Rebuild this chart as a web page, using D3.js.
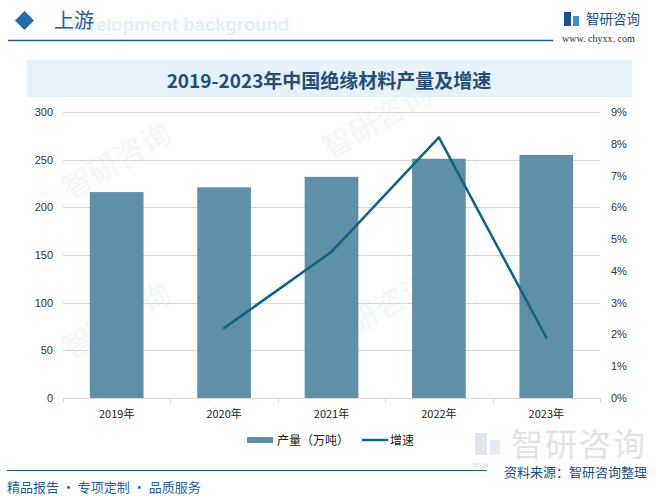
<!DOCTYPE html>
<html><head><meta charset="utf-8">
<script src="https://cdn.jsdelivr.net/npm/d3@7/dist/d3.min.js"></script>
<style>body{margin:0;background:#fff}svg{display:block}</style>
</head><body>
<script>
const categories = ["2019年","2020年","2021年","2022年","2023年"];
const output = [216, 221, 232, 251, 255];
const growth = [null, 2.2, 4.6, 8.2, 1.9];
const leftTicks = [0,50,100,150,200,250,300];
const rightTicks = [0,1,2,3,4,5,6,7,8,9];
const title = "2019-2023年中国绝缘材料产量及增速";
const legendNames = ["产量（万吨）","增速"];

const W=658,H=496;
const svg=d3.select("body").append("svg").attr("width",W).attr("height",H);
const font="'Liberation Sans','DejaVu Sans',Arial,sans-serif";
const cjk="'Noto Sans CJK SC','Noto Sans',sans-serif";

// watermarks (very faint)
[[70,200],[330,160],[70,360],[330,350]].forEach(([x,y])=>{
  svg.append("text").attr("x",x).attr("y",y).attr("transform",`rotate(-30,${x},${y})`).text("智研咨询")
   .attr("font-family",cjk).attr("font-size",30).attr("fill","#F4F7FA");
});

// header
svg.append("text").attr("x",62).attr("y",31).text("Development background")
 .attr("font-family",font).attr("font-weight","bold").attr("font-size",18.5).attr("fill","#E3EFF9");
svg.append("path").attr("d","M15,20.5 L24.5,11 L34,20.5 L24.5,30 Z").attr("fill","#1E6DAF");
svg.append("rect").attr("x",46).attr("y",9).attr("width",16).attr("height",22).attr("fill","none");
svg.append("text").attr("x",54).attr("y",28).text("上游").attr("font-family",cjk)
 .attr("font-size",20).attr("fill","#1F5F9F");
svg.append("line").attr("x1",8).attr("x2",553).attr("y1",40.5).attr("y2",40.5).attr("stroke","#1B5E93").attr("stroke-width",1.5);
// logo
const lg=svg.append("g").attr("transform","translate(564,12)");
lg.append("rect").attr("x",0).attr("y",0).attr("width",7).attr("height",14).attr("fill","#1F4E8C");
lg.append("rect").attr("x",9).attr("y",4).attr("width",6).attr("height",10).attr("fill","#3B8FD6");
svg.append("text").attr("x",586).attr("y",24).text("智研咨询").attr("font-family",cjk).attr("font-size",13.5).attr("fill","#1F4E8C");
svg.append("text").attr("x",562).attr("y",42).text("www. chyxx. com").attr("font-family","'Liberation Serif',serif").attr("font-size",10).attr("fill","#333");

// title banner
svg.append("rect").attr("x",27).attr("y",60).attr("width",605).attr("height",37).attr("fill","#E6F2FB");
svg.append("text").attr("x",329).attr("y",88).attr("text-anchor","middle").text(title)
 .attr("font-family","'Noto Sans CJK SC',sans-serif").attr("font-weight","bold").attr("font-size",19).attr("fill","#1F4E79");

// scales
const x0=63, x1=600, yTop=112, yBot=398;
const xb=d3.scaleBand().domain(categories).range([x0,x1]).paddingInner(0.5).paddingOuter(0.25);
const xc=d=>xb(d)+xb.bandwidth()/2;
const yl=d3.scaleLinear().domain([0,300]).range([yBot,yTop]);
const yr=d3.scaleLinear().domain([0,9]).range([yBot,yTop]);

// grid
svg.append("g").selectAll("line").data(leftTicks.slice(1)).join("line")
 .attr("x1",x0).attr("x2",x1).attr("y1",d=>Math.round(yl(d))+0.5).attr("y2",d=>Math.round(yl(d))+0.5)
 .attr("stroke","#D9D9D9").attr("stroke-width",1);

// left axis labels
svg.append("g").selectAll("text").data(leftTicks).join("text")
 .attr("x",53).attr("y",d=>yl(d)+4).attr("text-anchor","end").text(d=>d)
 .attr("font-family",font).attr("font-size",11).attr("fill","#333");
// right axis labels
svg.append("g").selectAll("text").data(rightTicks).join("text")
 .attr("x",611).attr("y",d=>yr(d)+4).text(d=>d+"%")
 .attr("font-family",font).attr("font-size",11).attr("fill","#333");

// bars
svg.append("g").selectAll("rect").data(output).join("rect")
 .attr("x",(d,i)=>xb(categories[i])).attr("width",xb.bandwidth())
 .attr("y",d=>yl(d)).attr("height",d=>yBot-yl(d)).attr("fill","#5E91A8");

// x axis
svg.append("line").attr("x1",x0).attr("x2",x1).attr("y1",yBot+0.5).attr("y2",yBot+0.5).attr("stroke","#D9D9D9");
const tickXs=d3.range(categories.length+1).map(i=>x0+i*(x1-x0)/categories.length);
svg.append("g").selectAll("line").data(tickXs).join("line")
 .attr("x1",d=>Math.round(d)+0.5).attr("x2",d=>Math.round(d)+0.5).attr("y1",yBot).attr("y2",yBot+5).attr("stroke","#D9D9D9");
svg.append("g").selectAll("text").data(categories).join("text")
 .attr("x",d=>xc(d)).attr("y",418).attr("text-anchor","middle").text(d=>d)
 .attr("font-family",cjk).attr("font-size",11).attr("fill","#222");

// line
const pts=categories.map((c,i)=>[c,growth[i]]).filter(d=>d[1]!=null);
svg.append("path").datum(pts).attr("fill","none").attr("stroke","#0E6483").attr("stroke-width",2.5)
 .attr("stroke-linejoin","round").attr("stroke-linecap","round")
 .attr("d",d3.line().x(d=>xc(d[0])).y(d=>yr(d[1])));

// legend
svg.append("rect").attr("x",247).attr("y",437).attr("width",26).attr("height",6).attr("fill","#5E91A8");
svg.append("text").attr("x",277).attr("y",445).text(legendNames[0]).attr("font-family",cjk).attr("font-size",12).attr("fill","#222");
svg.append("line").attr("x1",362).attr("x2",388).attr("y1",440).attr("y2",440).attr("stroke","#0E6483").attr("stroke-width",2.5);
svg.append("text").attr("x",390).attr("y",445).text(legendNames[1]).attr("font-family",cjk).attr("font-size",12).attr("fill","#222");

// footer faint logo
svg.append("rect").attr("x",475).attr("y",433).attr("width",12).attr("height",22).attr("fill","#E2E6EC");
svg.append("rect").attr("x",490).attr("y",440).attr("width",10).attr("height",15).attr("fill","#E2ECF6");
svg.append("text").attr("x",511).attr("y",456).text("智研咨询").attr("font-family",cjk).attr("font-size",32).attr("fill","#E3E3E3").attr("letter-spacing",2);
svg.append("text").attr("x",473).attr("y",468).text("w w").attr("font-family",font).attr("font-size",9).attr("fill","#DDD");
svg.append("line").attr("x1",7).attr("x2",487).attr("y1",470.5).attr("y2",470.5).attr("stroke","#1B5E93").attr("stroke-width",1.2);
svg.append("text").attr("x",504).attr("y",477).text("资料来源：智研咨询整理").attr("font-family",cjk).attr("font-size",13).attr("fill","#1B4F7A");
svg.append("text").attr("x",7).attr("y",492).text("精品报告 · 专项定制 · 品质服务").attr("font-family",cjk).attr("font-size",13).attr("fill","#1F5F9F");
</script>
</body></html>
